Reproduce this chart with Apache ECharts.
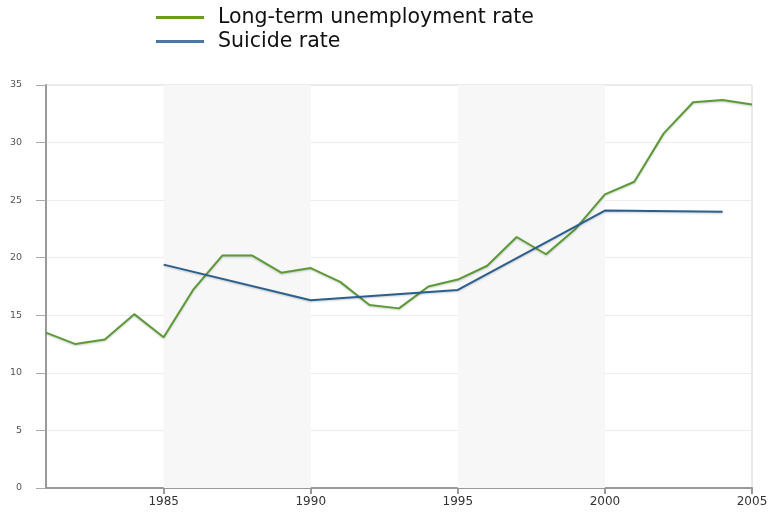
<!DOCTYPE html>
<html>
<head>
<meta charset="utf-8">
<script src="https://cdn.jsdelivr.net/npm/echarts@6/dist/echarts.min.js"></script>
<style>
  html, body { margin: 0; padding: 0; background: #fff; }
  #chart { width: 773px; height: 518px; }
</style>
</head>
<body>
<div id="chart"></div>
<script>
// years on the x axis
var years = ['1981','1982','1983','1984','1985','1986','1987','1988','1989','1990',
  '1991','1992','1993','1994','1995','1996','1997','1998','1999','2000',
  '2001','2002','2003','2004','2005'];
// long-term unemployment rate, one per year
var unemployment = [13.5, 12.5, 12.9, 15.1, 13.1, 17.2, 20.2, 20.2, 18.7, 19.1,
  17.9, 15.9, 15.6, 17.5, 18.1, 19.3, 21.8, 20.3, 22.5, 25.5,
  26.6, 30.8, 33.5, 33.7, 33.3];
// suicide rate, only measured in a few years
var suicideYears = ['1985', '1990', '1995', '2000', '2004'];
var suicideValues = [19.4, 16.3, 17.2, 24.1, 24.0];
// shaded periods
var bands = [['1985', '1990'], ['1995', '2000']];

var suicide = years.map(function (y) {
  var i = suicideYears.indexOf(y);
  return i < 0 ? null : suicideValues[i];
});

var showFive = function (idx, val) { return Number(val) % 5 === 0; };
var font = 'DejaVu Sans';

var chart = echarts.init(document.getElementById('chart'));
chart.setOption({
  animation: false,
  legend: {
    orient: 'vertical',
    left: 156,
    top: 7,
    padding: 0,
    itemWidth: 48,
    itemHeight: 3,
    itemGap: 3,
    icon: 'rect',
    textStyle: { fontFamily: font, fontSize: 20.5, color: '#111', padding: [0, 0, 0, 9] },
    data: [
      { name: 'Long-term unemployment rate', itemStyle: { color: '#6a9c1f' } },
      { name: 'Suicide rate', itemStyle: { color: '#4a77a8' } }
    ]
  },
  grid: {
    left: 46, right: 21, top: 85, bottom: 30,
    show: true, borderColor: '#d4d4d4', borderWidth: 1
  },
  xAxis: {
    type: 'category',
    data: years,
    boundaryGap: false,
    axisLine: { lineStyle: { color: '#999', width: 2 } },
    axisTick: { interval: showFive, length: 6, lineStyle: { color: '#999', width: 2 } },
    axisLabel: { interval: showFive, color: '#333', fontSize: 12, fontFamily: font, margin: 8 },
    splitLine: { show: false }
  },
  yAxis: {
    type: 'value',
    min: 0, max: 35, interval: 5,
    axisLine: { show: true, lineStyle: { color: '#999', width: 2 } },
    axisTick: { show: true, length: 10, lineStyle: { color: '#aaa' } },
    axisLabel: { color: '#555', fontSize: 9.5, fontFamily: font, margin: 24, align: 'right' },
    splitLine: { lineStyle: { color: '#ececec' } }
  },
  series: [
    {
      name: 'Long-term unemployment rate',
      type: 'line',
      data: unemployment,
      symbol: 'none',
      z: 3,
      lineStyle: { color: '#5c9a38', width: 2, shadowColor: 'rgba(0,0,0,0.2)', shadowBlur: 2, shadowOffsetY: 1 },
      itemStyle: { color: '#6a9c1f' },
      markArea: {
        silent: true,
        itemStyle: { color: '#f7f7f7' },
        data: bands.map(function (b) { return [{ xAxis: b[0] }, { xAxis: b[1] }]; })
      }
    },
    {
      name: 'Suicide rate',
      type: 'line',
      data: suicide,
      connectNulls: true,
      symbol: 'none',
      z: 4,
      lineStyle: { color: '#2b5f8e', width: 2, shadowColor: 'rgba(0,0,0,0.2)', shadowBlur: 2, shadowOffsetY: 1 },
      itemStyle: { color: '#4a77a8' }
    }
  ]
});
</script>
</body>
</html>
